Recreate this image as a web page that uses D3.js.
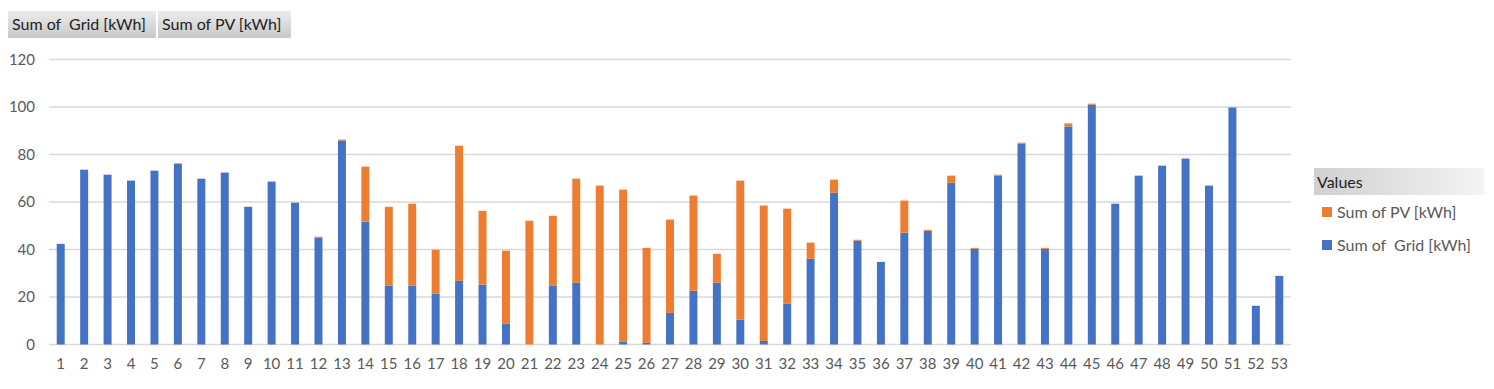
<!DOCTYPE html>
<html>
<head>
<meta charset="utf-8">
<script src="https://cdn.jsdelivr.net/npm/d3@7"></script>
<style>
  body { margin: 0; background: #fff; }
  text { font-family: Lato, "Open Sans", sans-serif; }
</style>
</head>
<body>
<script>
// week numbers
var weeks = d3.range(1, 54);

var gridKwh = [42.4, 73.6, 71.5, 69.0, 73.2, 76.2, 69.8, 72.4, 58.0, 68.6,
               59.7, 45.0, 85.9, 51.7, 24.7, 24.7, 21.4, 26.8, 25.2, 8.7,
               0, 24.7, 26.0, 0, 1.1, 0.7, 13.3, 22.6, 26.0, 10.4,
               1.5, 17.1, 36.1, 63.9, 43.7, 34.8, 47.1, 47.9, 68.1, 40.3,
               71.1, 84.6, 40.3, 91.8, 101.0, 59.3, 71.1, 75.3, 78.3, 66.9,
               99.8, 16.3, 28.9];

var pvKwh = [0, 0, 0, 0, 0, 0, 0, 0, 0, 0,
             0, 0.4, 0.4, 23.2, 33.3, 34.6, 18.5, 56.9, 31.1, 30.8,
             52.1, 29.5, 43.8, 66.9, 64.1, 40.0, 39.3, 40.1, 12.2, 58.6,
             57.0, 40.1, 6.8, 5.5, 0.4, 0, 13.5, 0.4, 3.0, 0.4,
             0.4, 0.4, 0.4, 1.3, 0.4, 0, 0, 0, 0, 0,
             0, 0, 0];

var yTicks = [0, 20, 40, 60, 80, 100, 120];
var seriesNames = ["Sum of  Grid [kWh]", "Sum of PV [kWh]"];
var colors = { grid: "#4472C4", pv: "#ED7D31" };

var width = 1494, height = 389;

var svg = d3.select("body").append("svg")
            .attr("width", width)
            .attr("height", height);

var defs = svg.append("defs");
var grad = defs.append("linearGradient")
               .attr("id", "btn")
               .attr("x1", 0).attr("y1", 0).attr("x2", 0).attr("y2", 1);
grad.append("stop").attr("offset", "0%").attr("stop-color", "#ececec");
grad.append("stop").attr("offset", "100%").attr("stop-color", "#c8c8c8");
var grad2 = defs.append("linearGradient")
               .attr("id", "hdr")
               .attr("x1", 0).attr("y1", 0).attr("x2", 1).attr("y2", 0);
grad2.append("stop").attr("offset", "0%").attr("stop-color", "#d0d0d0");
grad2.append("stop").attr("offset", "100%").attr("stop-color", "#f4f4f4");

var x = d3.scaleBand()
          .domain(weeks)
          .range([49, 1291])
          .paddingInner(0.66)
          .paddingOuter(0.33);

var y = d3.scaleLinear()
          .domain([0, 120])
          .range([344.5, 59.5]);

// gridlines
svg.append("g")
   .selectAll("line")
   .data(yTicks)
   .enter()
   .append("line")
   .attr("x1", 49)
   .attr("x2", 1291)
   .attr("y1", function (d) { return y(d); })
   .attr("y2", function (d) { return y(d); })
   .attr("stroke", "#d9d9d9")
   .attr("stroke-width", 1.5);

// y axis labels
var yAxis = svg.append("g")
               .attr("transform", "translate(35,0)")
               .call(d3.axisLeft(y).tickValues(yTicks).tickSize(0).tickPadding(0));
yAxis.select(".domain").remove();
yAxis.selectAll("text")
     .attr("font-size", 15)
     .attr("fill", "#595959")
     .style("font-family", "Lato, 'Open Sans', sans-serif");

// x axis labels
var xAxis = svg.append("g")
               .attr("transform", "translate(0,354)")
               .call(d3.axisBottom(x).tickSize(0).tickPadding(4));
xAxis.select(".domain").remove();
xAxis.selectAll("text")
     .attr("font-size", 15)
     .attr("fill", "#595959")
     .style("font-family", "Lato, 'Open Sans', sans-serif");

// stacked bars
var rows = weeks.map(function (w, i) { return { week: w, grid: gridKwh[i], pv: pvKwh[i] }; });
var stacked = d3.stack().keys(["grid", "pv"])(rows);

svg.append("g")
   .selectAll("g")
   .data(stacked)
   .enter()
   .append("g")
   .attr("fill", function (d) { return colors[d.key]; })
   .selectAll("rect")
   .data(function (d) { return d; })
   .enter()
   .append("rect")
   .attr("x", function (d) { return x(d.data.week); })
   .attr("width", x.bandwidth())
   .attr("y", function (d) { return y(d[1]); })
   .attr("height", function (d) { return y(d[0]) - y(d[1]); });

// field buttons at top
var btns = [{ label: seriesNames[0], x0: 8, x1: 156 }, { label: seriesNames[1], x0: 158, x1: 291 }];
var bg = svg.append("g").selectAll("g").data(btns).enter().append("g");
bg.append("rect")
  .attr("x", function (d) { return d.x0; })
  .attr("y", 11)
  .attr("width", function (d) { return d.x1 - d.x0; })
  .attr("height", 27)
  .attr("fill", "url(#btn)");
bg.append("text")
  .attr("x", function (d) { return d.x0 + 4; })
  .attr("y", 30)
  .attr("font-size", 16)
  .attr("fill", "#222")
  .style("white-space", "pre")
  .attr("xml:space", "preserve")
  .text(function (d) { return d.label; });

// legend
var lg = svg.append("g");
lg.append("rect")
  .attr("x", 1314).attr("y", 168)
  .attr("width", 170).attr("height", 27)
  .attr("fill", "url(#hdr)");
lg.append("text")
  .attr("x", 1317).attr("y", 188)
  .attr("font-size", 16)
  .attr("fill", "#222")
  .text("Values");

var legendItems = [{ label: seriesNames[1], key: "pv" }, { label: seriesNames[0], key: "grid" }];
var li = lg.selectAll("g.item")
           .data(legendItems)
           .enter()
           .append("g")
           .attr("class", "item")
           .attr("transform", function (d, i) { return "translate(1322," + (207 + i * 33) + ")"; });
li.append("rect")
  .attr("width", 10).attr("height", 10)
  .attr("fill", function (d) { return colors[d.key]; });
li.append("text")
  .attr("x", 15).attr("y", 11)
  .attr("font-size", 16)
  .attr("fill", "#595959")
  .style("white-space", "pre")
  .attr("xml:space", "preserve")
  .text(function (d) { return d.label; });
</script>
</body>
</html>
